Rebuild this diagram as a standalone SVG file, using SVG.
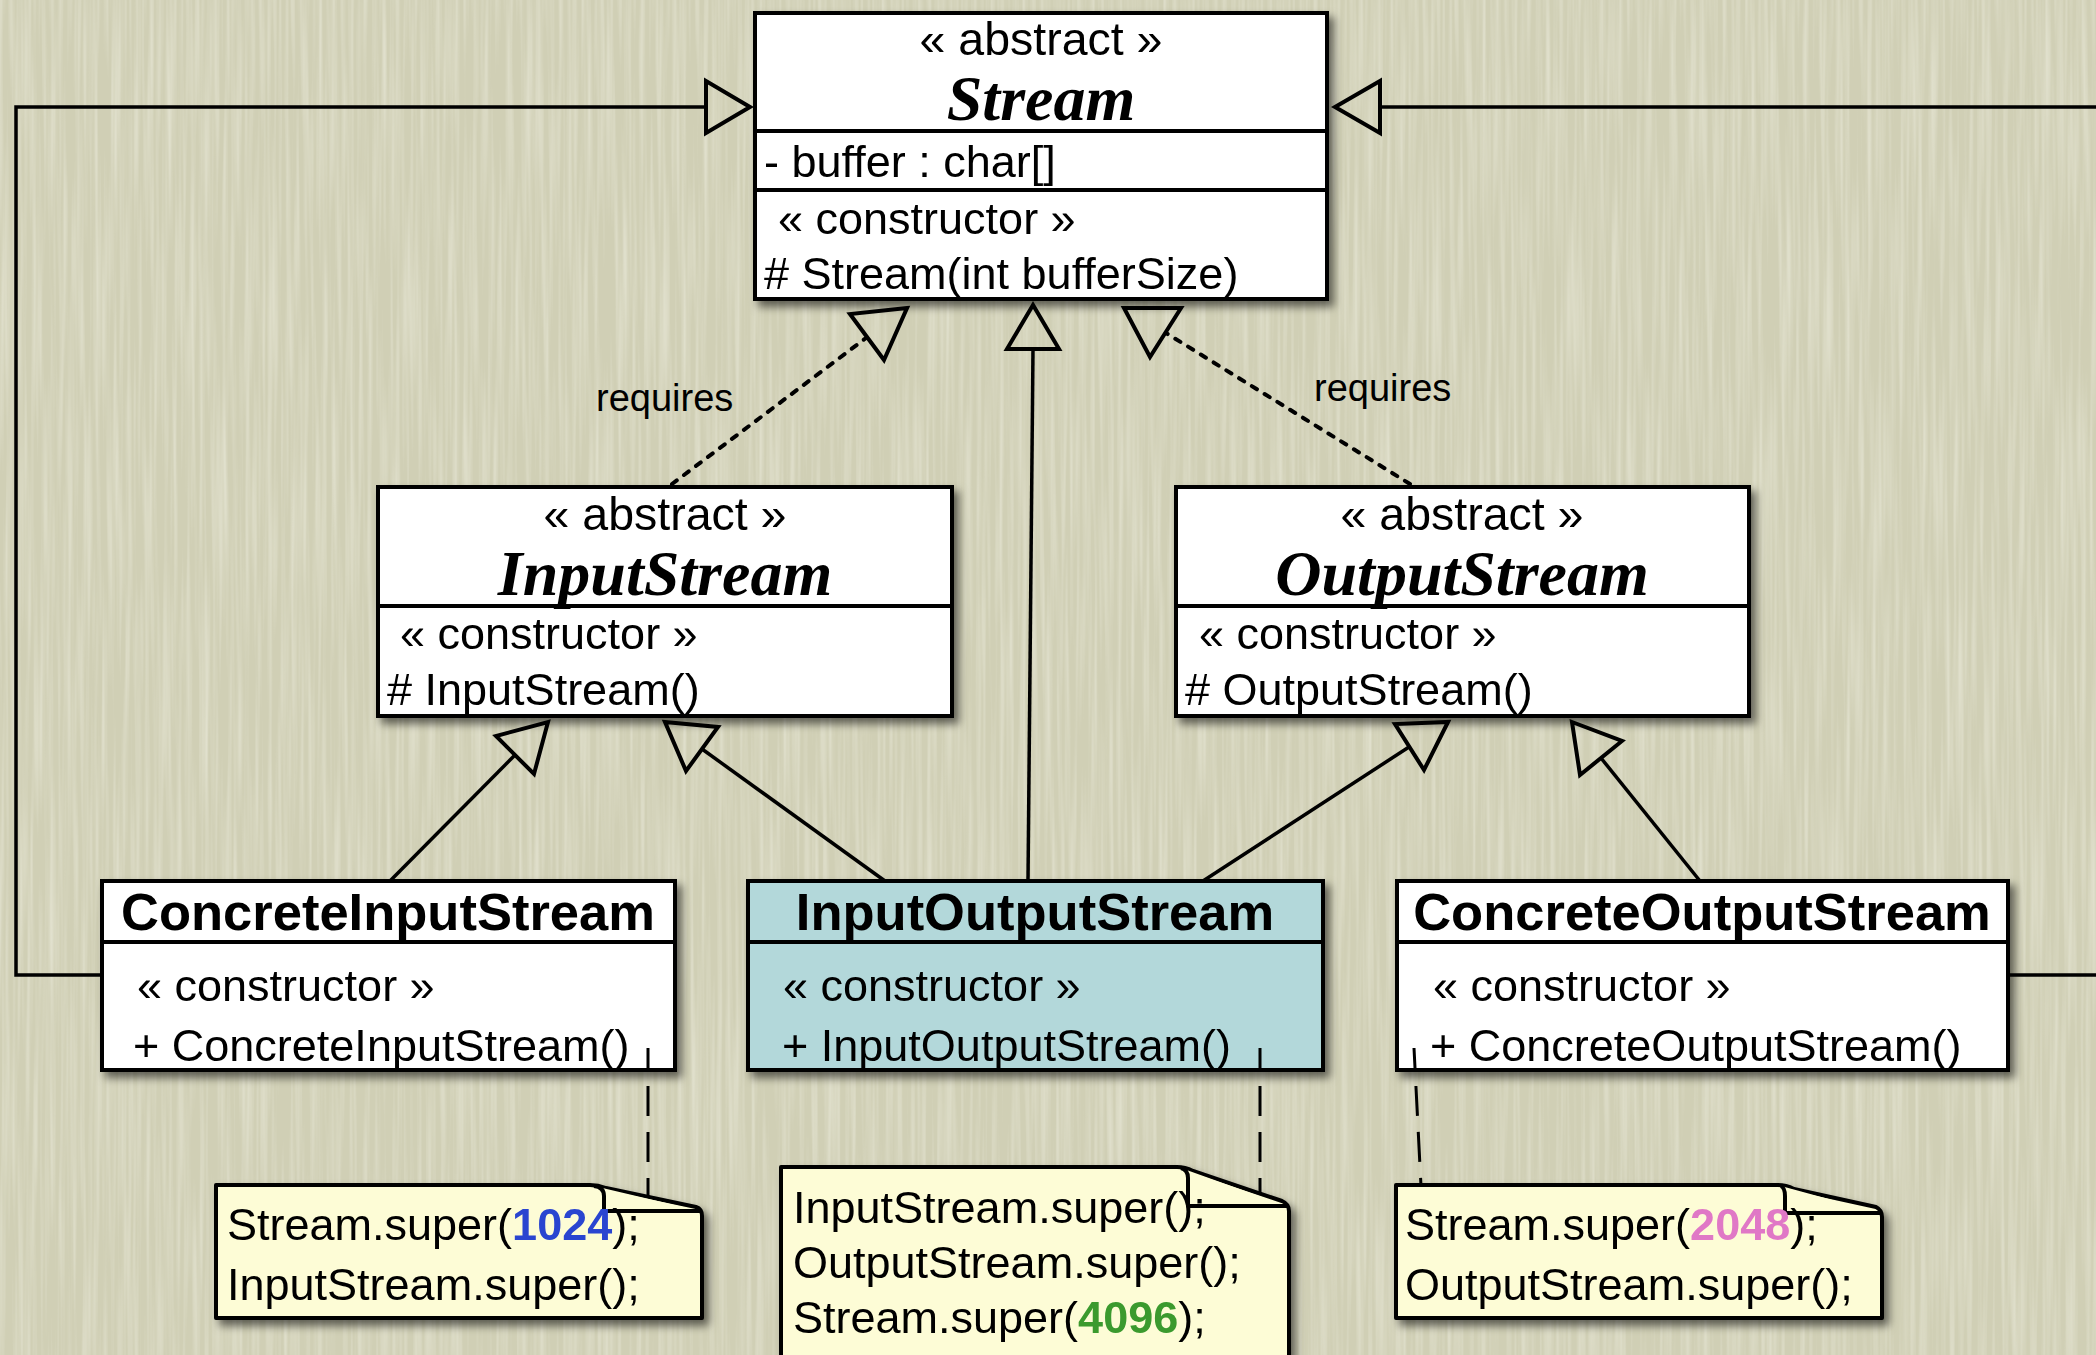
<svg xmlns="http://www.w3.org/2000/svg" width="2096" height="1355" viewBox="0 0 2096 1355">
<style>
.box{fill:#ffffff;stroke:#000;stroke-width:4}
.boxb{fill:#b3d8da;stroke:#000;stroke-width:4}
.sep{stroke:#000;stroke-width:4}
.note{fill:#fdfcd6;stroke:#000;stroke-width:4;stroke-linejoin:round}
.flap{fill:#fdfcd6;stroke:#000;stroke-width:4;stroke-linejoin:round}
.t{font-family:"Liberation Sans",Arial,Helvetica,sans-serif;font-size:45px;fill:#000}
.st{font-family:"Liberation Sans",Arial,Helvetica,sans-serif;font-size:46.5px;fill:#000;text-anchor:middle}
.ab{font-family:"Liberation Serif","Times New Roman",serif;font-size:64px;font-weight:bold;font-style:italic;fill:#000;text-anchor:middle}
.ti{font-family:"Liberation Sans",Arial,Helvetica,sans-serif;font-size:52.5px;font-weight:bold;fill:#000;text-anchor:middle}
.nt{font-family:"Liberation Sans",Arial,Helvetica,sans-serif;font-size:45px;fill:#000}
.lbl{font-family:"Liberation Sans",Arial,Helvetica,sans-serif;font-size:38px;fill:#000}
.line{fill:none;stroke:#000;stroke-width:3.5}
.dot{fill:none;stroke:#000;stroke-width:4;stroke-dasharray:6 9;stroke-linecap:round}
.dash{fill:none;stroke:#000;stroke-width:3;stroke-dasharray:30 16}
.tri{fill:none;stroke:#000;stroke-width:4;stroke-linejoin:miter}
</style>
<defs>
<filter id="shadow" x="-10%" y="-10%" width="125%" height="130%">
<feDropShadow dx="5" dy="6" stdDeviation="4" flood-color="#000" flood-opacity="0.55"/>
</filter>
<filter id="grain" x="0" y="0" width="100%" height="100%">
<feTurbulence type="fractalNoise" baseFrequency="0.22 0.005" numOctaves="2" seed="11" result="n"/>
<feColorMatrix type="matrix" values="0 0 0 0 1  0 0 0 0 1  0 0 0 0 0.94  0.7 0 0 0 -0.27"/>
</filter>
</defs>
<rect x="0" y="0" width="2096" height="1355" fill="#d0cfb5"/>
<rect x="0" y="0" width="2096" height="1355" filter="url(#grain)"/>

<g id="Stream" filter="url(#shadow)">
<rect class="box" x="755" y="13" width="572" height="286"/>
<line class="sep" x1="755" y1="131" x2="1327" y2="131"/>
<line class="sep" x1="755" y1="190" x2="1327" y2="190"/>
<text class="st" x="1041" y="55">« abstract »</text>
<text class="ab" x="1041" y="120">Stream</text>
<text class="t" x="764" y="177">- buffer : char[]</text>
<text class="t" x="778" y="234">« constructor »</text>
<text class="t" x="764" y="289"># Stream(int bufferSize)</text>
</g>

<g id="InputStream" filter="url(#shadow)">
<rect class="box" x="378" y="487" width="574" height="229"/>
<line class="sep" x1="378" y1="606" x2="952" y2="606"/>
<text class="st" x="665" y="530">« abstract »</text>
<text class="ab" x="665" y="595">InputStream</text>
<text class="t" x="400" y="649">« constructor »</text>
<text class="t" x="387" y="705"># InputStream()</text>
</g>

<g id="OutputStream" filter="url(#shadow)">
<rect class="box" x="1176" y="487" width="573" height="229"/>
<line class="sep" x1="1176" y1="606" x2="1749" y2="606"/>
<text class="st" x="1462" y="530">« abstract »</text>
<text class="ab" x="1462" y="595">OutputStream</text>
<text class="t" x="1199" y="649">« constructor »</text>
<text class="t" x="1185" y="705"># OutputStream()</text>
</g>

<g id="ConcreteInputStream" filter="url(#shadow)">
<rect class="box" x="102" y="881" width="573" height="189"/>
<line class="sep" x1="102" y1="942" x2="675" y2="942"/>
<text class="ti" x="388" y="930">ConcreteInputStream</text>
<text class="t" x="137" y="1001">« constructor »</text>
<text class="t" x="133" y="1061">+ ConcreteInputStream()</text>
</g>

<g id="InputOutputStream" filter="url(#shadow)">
<rect class="boxb" x="748" y="881" width="575" height="189"/>
<line class="sep" x1="748" y1="942" x2="1323" y2="942"/>
<text class="ti" x="1035" y="930">InputOutputStream</text>
<text class="t" x="783" y="1001">« constructor »</text>
<text class="t" x="782" y="1061">+ InputOutputStream()</text>
</g>

<g id="ConcreteOutputStream" filter="url(#shadow)">
<rect class="box" x="1397" y="881" width="611" height="189"/>
<line class="sep" x1="1397" y1="942" x2="2008" y2="942"/>
<text class="ti" x="1702" y="930">ConcreteOutputStream</text>
<text class="t" x="1433" y="1001">« constructor »</text>
<text class="t" x="1430" y="1061">+ ConcreteOutputStream()</text>
</g>

<g id="connectors">
<polyline class="line" points="102,975 16,975 16,107 706,107"/>
<polygon class="tri" points="750,107 706,81 706,133"/>
<polyline class="line" points="2008,975 2100,975"/>
<polyline class="line" points="2100,107 1380,107"/>
<polygon class="tri" points="1335,107 1380,81 1380,133"/>
<line class="line" x1="1028" y1="881" x2="1033" y2="349"/>
<polygon class="tri" points="1033,305 1007,349 1059,349"/>
<line class="dot" x1="672" y1="484" x2="866" y2="338"/>
<polygon class="tri" points="907,308 850,314 884,360"/>
<line class="dot" x1="1410" y1="484" x2="1166" y2="333"/>
<polygon class="tri" points="1124,308 1181,308 1150,357"/>
<text class="lbl" x="596" y="411">requires</text>
<text class="lbl" x="1314" y="401">requires</text>
<line class="line" x1="390" y1="881" x2="515" y2="755"/>
<polygon class="tri" points="548,722 534,774 496,736"/>
<line class="line" x1="885" y1="881" x2="702" y2="749"/>
<polygon class="tri" points="665,722 718,727 686,771"/>
<line class="line" x1="1203" y1="881" x2="1409" y2="747"/>
<polygon class="tri" points="1448,722 1424,770 1395,724"/>
<line class="line" x1="1700" y1="881" x2="1601" y2="758"/>
<polygon class="tri" points="1572,722 1622,741 1580,775"/>
<line class="dash" x1="648" y1="1048" x2="648" y2="1205" stroke-dashoffset="8"/>
<line class="dash" x1="1260" y1="1048" x2="1260" y2="1198" stroke-dashoffset="8"/>
<line class="dash" x1="1414" y1="1048" x2="1421" y2="1186" stroke-dashoffset="8"/>
</g>

<g id="note1" filter="url(#shadow)">
<path class="note" d="M216,1185 H590 Q598,1185 606,1188 L696,1207 Q702,1209 702,1216 V1318 H216 Z"/>
<path class="flap" d="M594,1186 Q604,1187 604,1196 V1211 H700"/>
<text class="nt" x="227" y="1240">Stream.super(<tspan font-weight="bold" fill="#2a45d0">1024</tspan>);</text>
<text class="nt" x="227" y="1300">InputStream.super();</text>
</g>

<g id="note2" filter="url(#shadow)">
<path class="note" d="M781,1167 H1177 Q1185,1167 1193,1171 L1282,1201 Q1289,1204 1289,1211 V1370 H781 Z"/>
<path class="flap" d="M1181,1168 Q1188,1170 1188,1178 V1206 H1287"/>
<text class="nt" x="793" y="1223">InputStream.super();</text>
<text class="nt" x="793" y="1278">OutputStream.super();</text>
<text class="nt" x="793" y="1333">Stream.super(<tspan font-weight="bold" fill="#3a9a2e">4096</tspan>);</text>
</g>

<g id="note3" filter="url(#shadow)">
<path class="note" d="M1396,1185 H1778 Q1786,1185 1794,1189 L1876,1207 Q1882,1210 1882,1217 V1318 H1396 Z"/>
<path class="flap" d="M1781,1186 Q1785,1188 1785,1196 V1213 H1880"/>
<text class="nt" x="1405" y="1240">Stream.super(<tspan font-weight="bold" fill="#e078c6">2048</tspan>);</text>
<text class="nt" x="1405" y="1300">OutputStream.super();</text>
</g>
</svg>
